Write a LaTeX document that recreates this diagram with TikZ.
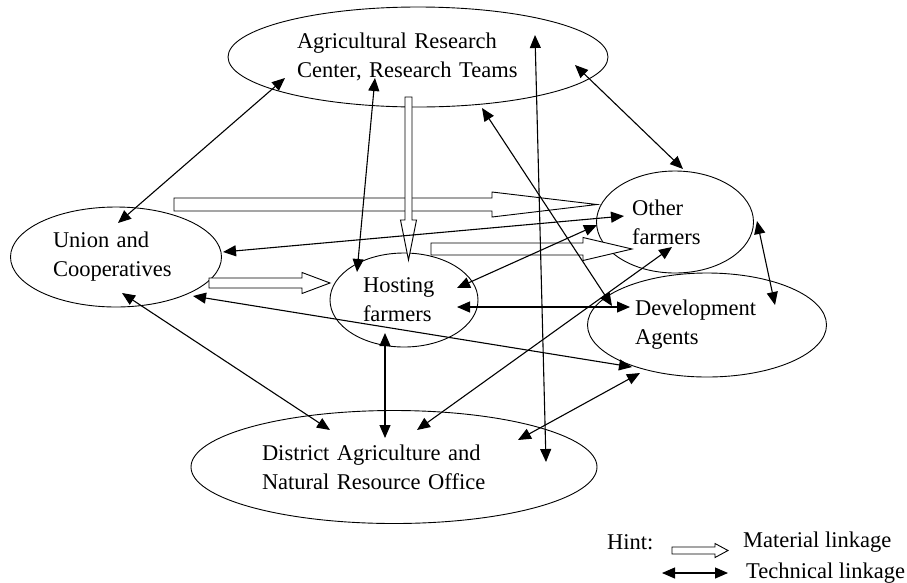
\documentclass[tikz,border=0pt]{standalone}
\usepackage{fontspec}
\setmainfont{Liberation Serif}
\usetikzlibrary{shapes.geometric, arrows.meta, calc}

\tikzset{
  actor/.style={draw, ellipse, line width=0.9pt, inner sep=0pt, align=left},
  techlink/.style={{Triangle[length=13pt,width=11pt]}-{Triangle[length=13pt,width=11pt]}, line width=1.1pt},
  matlink/.style={draw, fill=white, line width=0.9pt, line join=miter},
}

% hollow block arrow: start, length, angle, shaft half width, head half width, head length
\newcommand{\matarrow}[6]{%
  \draw[matlink, shift={#1}, rotate=#3]
    (0,-#4) -- ({#2-#6},-#4) -- ({#2-#6},-#5) -- (#2,0) -- ({#2-#6},#5) -- ({#2-#6},#4) -- (0,#4) -- cycle;}

\begin{document}
\begin{tikzpicture}[x=1pt, y=-1pt, font=\fontsize{22.5}{29}\selectfont, inner sep=0pt]
  \useasboundingbox (0,0) rectangle (907,582);

  % actors
  \node[actor, minimum width=380pt, minimum height=100pt, text width=242pt] (arc) at (418,57) {Agricultural Research\\Center, Research Teams};
  \node[actor, minimum width=211pt, minimum height=100pt, text width=126pt] (union) at (116,257) {Union and\\Cooperatives};
  \node[actor, minimum width=148pt, minimum height=94pt, text width=82pt] (host) at (404,300) {Hosting\\farmers};
  \node[actor, minimum width=157pt, minimum height=102pt, text width=86pt] (other) at (675,222) {Other\\farmers};
  \node[actor, minimum width=239pt, minimum height=104pt, text width=144pt] (dev) at (707,325) {Development\\Agents};
  \node[actor, minimum width=406pt, minimum height=113pt, text width=264pt] (dist) at (394,467) {District Agriculture and\\Natural Resource Office};

  % material linkages
  \matarrow{($(union)+(58,-52.5)$)}{423}{0}{6.5}{12.5}{105}
  \matarrow{($(arc)+(-9.5,40)$)}{163}{-90}{3.5}{8}{40}
  \matarrow{($(union)+(93,26)$)}{121}{0}{5}{10.5}{28}
  \matarrow{($(host)+(27,-51)$)}{201}{0}{6}{11.5}{49}

  % technical linkages
  \draw[techlink] ($(union)+(2,-34)$) -- ($(arc)+(-133,21)$);
  \draw[techlink] ($(arc)+(-43,21)$) -- ($(host)+(-47,-28)$);
  \draw[techlink] ($(arc)+(64,51)$) -- ($(dev)+(-95,-19)$);
  \draw[techlink] ($(arc)+(117,-22)$) -- ($(dist)+(152,-5)$);
  \draw[techlink] ($(arc)+(157,8)$) -- ($(other)+(8,-53)$);
  \draw[techlink] ($(other)+(-51,-6)$) -- ($(union)+(107,-5)$);
  \draw[techlink] ($(other)+(-78,3)$) -- ($(host)+(53,-12)$);
  \draw[techlink] ($(other)+(-3,25)$) -- ($(dist)+(23,-37)$);
  \draw[techlink] ($(other)+(82,-1)$) -- ($(dev)+(68,-20)$);
  \draw[techlink] ($(host)+(53,7)$) -- ($(dev)+(-77,-18)$);
  \draw[techlink] ($(union)+(77,39)$) -- ($(dev)+(-75,42)$);
  \draw[techlink] ($(union)+(6,36)$) -- ($(dist)+(-64,-37)$);
  \draw[techlink] ($(host)+(-19,33)$) -- ($(dist)+(-9,-29)$);
  \draw[techlink] ($(dev)+(-67,48)$) -- ($(dist)+(124,-27)$);

  % legend
  \node[anchor=west] (hint) at (607,542) {Hint:};
  \node[anchor=west] (matlbl) at (743,542) {Material linkage};
  \node[anchor=west] (techlbl) at (746,573) {Technical linkage};
  \matarrow{($(matlbl.west)+(-71,8.5)$)}{56}{0}{3.5}{7}{13}
  \draw[techlink] ($(techlbl.west)+(-84,0)$) -- ($(techlbl.west)+(-18,0)$);
\end{tikzpicture}
\end{document}
